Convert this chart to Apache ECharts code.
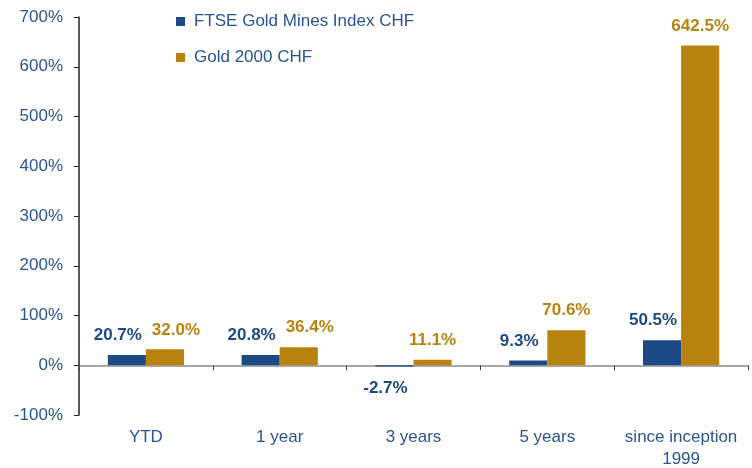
<!DOCTYPE html>
<html>
<head>
<meta charset="utf-8">
<script src="https://cdn.jsdelivr.net/npm/echarts@6/dist/echarts.min.js"></script>
<style>
  html, body { margin: 0; padding: 0; background: #fff; }
  #main { width: 752px; height: 468px; }
</style>
</head>
<body>
<div id="main"></div>
<script>
    // data
    var categories = ['YTD', '1 year', '3 years', '5 years', 'since inception\n1999'];
    var minesValues = [20.7, 20.8, -2.7, 9.3, 50.5];
    var goldValues = [32.0, 36.4, 11.1, 70.6, 642.5];
    var seriesNames = ['FTSE Gold Mines Index CHF', 'Gold 2000 CHF'];

    var blue = '#1B4A87';
    var gold = '#B8820F';
    var textBlue = '#2A5391';

    var myChart = echarts.init(document.getElementById('main'));

    function pct(p) {
        return p.value.toFixed(1) + '%';
    }

    // negative bars get their label underneath; labels of close neighbours are pushed apart
    function items(values, other, shift) {
        return values.map(function (v, i) {
            var close = other && other[i] >= 0 && Math.abs(v - other[i]) < 30;
            return {
                value: v,
                label: {
                    position: v < 0 ? 'bottom' : 'top',
                    distance: v < 0 ? 13 : 11,
                    offset: [shift === null ? (close ? 11 : 0) : shift, 0]
                }
            };
        });
    }

    function barSeries(name, data, color) {
        return {
            name: name,
            type: 'bar',
            data: data,
            barGap: 0,
            barCategoryGap: '43%',
            itemStyle: { color: color },
            label: {
                show: true,
                color: color,
                fontSize: 17,
                fontWeight: 'bold',
                formatter: pct
            }
        };
    }

    myChart.setOption({
        animation: false,
        textStyle: { fontFamily: 'Liberation Sans, Arial, sans-serif' },
        grid: { left: 79, right: 4, top: 17, bottom: 53, containLabel: false, outerBoundsMode: 'none' },
        legend: {
            orient: 'vertical',
            left: 171,
            top: 8,
            itemWidth: 9,
            itemHeight: 9,
            itemGap: 19,
            icon: 'rect',
            textStyle: { color: textBlue, fontSize: 17, padding: [0, 0, 0, 4] },
            data: seriesNames
        },
        xAxis: [
            {
                // category labels along the bottom
                type: 'category',
                data: categories,
                axisLine: { show: false, onZero: false },
                axisTick: { show: false },
                axisLabel: {
                    color: textBlue, fontSize: 17, interval: 0, lineHeight: 22,
                    margin: 11
                }
            },
            {
                // zero line with the category ticks
                type: 'category',
                data: categories,
                position: 'bottom',
                axisLine: { onZero: true, lineStyle: { color: '#8c8c8c', width: 1.5 } },
                axisTick: { show: true, length: 5, lineStyle: { color: '#444' } },
                axisLabel: { show: false }
            }
        ],
        yAxis: {
            type: 'value',
            min: -100,
            max: 700,
            interval: 100,
            splitLine: { show: false },
            axisLine: { show: true, lineStyle: { color: '#222', width: 1.5 } },
            axisTick: { show: true, length: 5, lineStyle: { color: '#222' } },
            axisLabel: {
                color: textBlue, fontSize: 17, margin: 16,
                formatter: '{value}%'
            }
        },
        series: [
            barSeries(seriesNames[0], items(minesValues, null, -9), blue),
            barSeries(seriesNames[1], items(goldValues, minesValues, null), gold)
        ]
    });
</script>
</body>
</html>
